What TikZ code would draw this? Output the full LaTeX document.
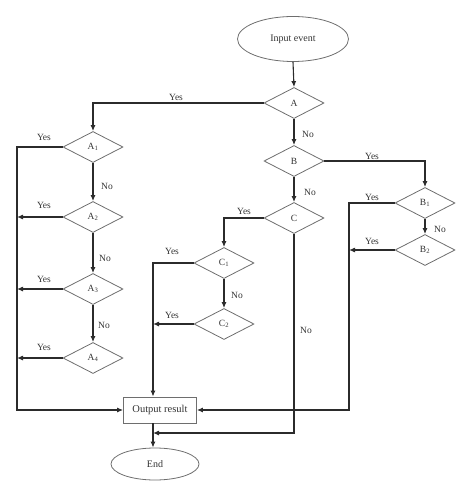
\documentclass[tikz,border=0pt]{standalone}
\usepackage{fontspec}
\setmainfont{Liberation Serif}
\usetikzlibrary{shapes.geometric,arrows.meta}
\definecolor{ln}{HTML}{2B2B2B}
\definecolor{bd}{HTML}{6E6E6E}
\definecolor{tx}{HTML}{333333}
\tikzset{
  dec/.style={diamond,draw=bd,line width=0.8pt,minimum width=60pt,minimum height=31pt,inner sep=0pt,font=\fontsize{9.5}{10}\selectfont,text=tx},
  term/.style={ellipse,draw=bd,line width=0.8pt,inner sep=0pt,font=\fontsize{10}{12}\selectfont,text=tx},
  outbox/.style={rectangle,draw=bd,line width=0.8pt,minimum width=73pt,minimum height=26pt,inner sep=0pt,font=\fontsize{10.5}{12}\selectfont,text=tx},
  conn/.style={draw=ln,line width=1.1pt},
  arr/.style={conn,-{Latex[length=6pt,width=5pt]}},
  lab/.style={font=\fontsize{9.5}{10}\selectfont,text=tx,inner sep=0pt}
}
\begin{document}
\begin{tikzpicture}[x=1pt,y=-1pt]
\useasboundingbox (0,0) rectangle (474,497);
% nodes
\node[term,minimum width=111pt,minimum height=45pt] (In) at (293,39) {Input event};
\node[dec] (A) at (294,103) {A};
\node[dec] (A1) at (93,147) {A\textsubscript{1}};
\node[dec] (A2) at (93,217) {A\textsubscript{2}};
\node[dec] (A3) at (93,289) {A\textsubscript{3}};
\node[dec] (A4) at (93,358) {A\textsubscript{4}};
\node[dec] (B) at (294,161) {B};
\node[dec] (C) at (294,218) {C};
\node[dec] (C1) at (224,263) {C\textsubscript{1}};
\node[dec] (C2) at (224,324) {C\textsubscript{2}};
\node[dec] (B1) at (425,203) {B\textsubscript{1}};
\node[dec] (B2) at (425,250) {B\textsubscript{2}};
\node[outbox] (Out) at (160,410) {Output result};
\node[term,minimum width=88pt,minimum height=32pt] (End) at (155,464) {End};
% helper coordinates
\coordinate (lt) at (17,410);
\coordinate (cx) at (153,410);
\coordinate (rx) at (349,410);
\coordinate (nc) at (153,433);
% connectors
\draw[arr] (In.south) -- (A.north);
\draw[arr] (A.west) -| (A1.north);
\draw[arr] (A.south) -- (B.north);
\draw[arr] (B.south) -- (C.north);
\draw[arr] (B.east) -| (B1.north);
\draw[arr] (B1.south) -- (B2.north);
\draw[arr] (B1.west) -| (rx) -- (Out.east);
\draw[arr] (B2.west) -- (B2.west -| rx);
\draw[arr] (C.west) -| (C1.north);
\draw[arr] (C1.south) -- (C2.north);
\draw[arr] (C1.west) -| (cx |- Out.north);
\draw[arr] (C2.west) -- (C2.west -| cx);
\draw[arr] (C.south) -- (C.south |- nc) -- (nc);
\draw[arr] (A1.south) -- (A2.north);
\draw[arr] (A2.south) -- (A3.north);
\draw[arr] (A3.south) -- (A4.north);
\draw[arr] (A1.west) -| (lt) -- (Out.west);
\draw[arr] (A2.west) -- (A2.west -| lt);
\draw[arr] (A3.west) -- (A3.west -| lt);
\draw[arr] (A4.west) -- (A4.west -| lt);
\draw[arr] (cx |- Out.south) -- (cx |- End.north);
% labels
\node[lab] (lA) at (176,97) {Yes};
\node[lab] (lA1) at (44,137) {Yes};
\node[lab] (lA2) at (44,205) {Yes};
\node[lab] (lA3) at (44,279) {Yes};
\node[lab] (lA4) at (44,347) {Yes};
\node[lab] (nA1) at (107,186) {No};
\node[lab] (nA2) at (105,258) {No};
\node[lab] (nA3) at (104,325) {No};
\node[lab] (nA) at (308,134) {No};
\node[lab] (lB) at (372,156) {Yes};
\node[lab] (nB) at (310,192) {No};
\node[lab] (lC) at (244,211) {Yes};
\node[lab] (lB1) at (372,197) {Yes};
\node[lab] (nB1) at (440,229) {No};
\node[lab] (lB2) at (372,241) {Yes};
\node[lab] (lC1) at (172,251) {Yes};
\node[lab] (nC1) at (237,295) {No};
\node[lab] (lC2) at (172,315) {Yes};
\node[lab] (nC) at (306,330) {No};
\end{tikzpicture}
\end{document}
